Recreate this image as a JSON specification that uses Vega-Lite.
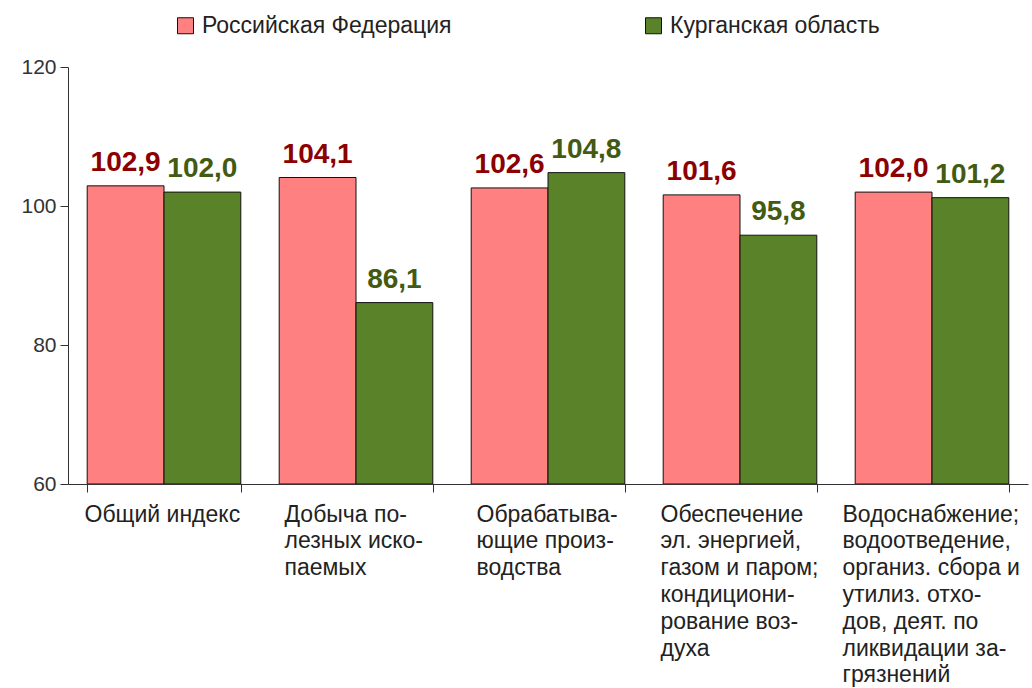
{
  "$schema": "https://vega.github.io/schema/vega-lite/v6.json",
  "width": 960,
  "height": 417,
  "autosize": {"type": "none"},
  "padding": {"left": 68, "top": 67, "right": 4, "bottom": 204},
  "background": "white",
  "config": {
    "view": {"stroke": null},
    "font": "Liberation Sans",
    "locale": {"number": {"decimal": ",", "thousands": " ", "grouping": [3], "currency": ["", ""]}}
  },
  "data": {
    "values": [
      {"cat": "Общий индекс", "series": "Российская Федерация", "v": 102.9},
      {"cat": "Общий индекс", "series": "Курганская область", "v": 102.0},
      {"cat": "Добыча по-\nлезных иско-\nпаемых", "series": "Российская Федерация", "v": 104.1},
      {"cat": "Добыча по-\nлезных иско-\nпаемых", "series": "Курганская область", "v": 86.1},
      {"cat": "Обрабатыва-\nющие произ-\nводства", "series": "Российская Федерация", "v": 102.6},
      {"cat": "Обрабатыва-\nющие произ-\nводства", "series": "Курганская область", "v": 104.8},
      {"cat": "Обеспечение\nэл. энергией,\nгазом и паром;\nкондициони-\nрование воз-\nдуха", "series": "Российская Федерация", "v": 101.6},
      {"cat": "Обеспечение\nэл. энергией,\nгазом и паром;\nкондициони-\nрование воз-\nдуха", "series": "Курганская область", "v": 95.8},
      {"cat": "Водоснабжение;\nводоотведение,\nорганиз. сбора и\nутилиз. отхо-\nдов, деят. по\nликвидации за-\nгрязнений", "series": "Российская Федерация", "v": 102.0},
      {"cat": "Водоснабжение;\nводоотведение,\nорганиз. сбора и\nутилиз. отхо-\nдов, деят. по\nликвидации за-\nгрязнений", "series": "Курганская область", "v": 101.2}
    ]
  },
  "encoding": {
    "x": {
      "field": "cat", "type": "nominal", "sort": null,
      "scale": {"paddingInner": 0.2, "paddingOuter": 0.1},
      "axis": {
        "title": null,
        "tickBand": "extent",
        "labelAngle": 0,
        "labelAlign": "left",
        "labelBaseline": "top",
        "labelOffset": {
          "condition": [
            {"test": "datum.index > 0.9", "value": -90},
            {"test": "datum.index > 0.1 && datum.index < 0.6", "value": -72}
          ],
          "value": -80
        },
        "labelPadding": 11,
        "labelFontSize": 23,
        "labelLineHeight": 26.8,
        "labelColor": "#222222",
        "labelLimit": 300,
        "labelOverlap": false,
        "labelBound": false,
        "labelExpr": "split(datum.label, '\\n')",
        "tickSize": 8,
        "tickColor": "#333333",
        "domainColor": "#333333",
        "grid": false
      }
    },
    "xOffset": {
      "field": "series", "type": "nominal",
      "scale": {"domain": ["Российская Федерация", "Курганская область"], "paddingInner": 0}
    },
    "y": {
      "field": "v", "type": "quantitative",
      "scale": {"domain": [60, 120], "nice": false, "zero": false},
      "axis": {
        "title": null,
        "values": [60, 80, 100, 120],
        "grid": false,
        "tickSize": 8,
        "tickColor": "#333333",
        "domainColor": "#333333",
        "labelFontSize": 21,
        "labelColor": "#333333",
        "labelPadding": 4
      }
    }
  },
  "layer": [
    {
      "mark": {"type": "bar", "stroke": "#111111", "strokeWidth": 1, "clip": true},
      "encoding": {
        "y2": {"datum": 60},
        "color": {
          "field": "series", "type": "nominal",
          "scale": {"domain": ["Российская Федерация", "Курганская область"], "range": ["#FF8080", "#5A8228"]},
          "legend": {
            "title": null,
            "orient": "none",
            "direction": "horizontal",
            "legendX": 106,
            "legendY": -53,
            "symbolType": "square",
            "symbolSize": 256,
            "symbolStrokeColor": "#111111",
            "symbolStrokeWidth": 1,
            "symbolOpacity": 1,
            "labelFontSize": 23,
            "labelColor": "#222222",
            "labelOffset": 5,
            "labelLimit": 400,
            "columnPadding": 190
          }
        }
      }
    },
    {
      "mark": {"type": "text", "fontSize": 28, "fontWeight": "bold", "baseline": "alphabetic", "dy": -15},
      "encoding": {
        "text": {"field": "v", "type": "quantitative", "format": ".1f"},
        "color": {
          "condition": {"test": "datum.series === 'Российская Федерация'", "value": "#8B0000"},
          "value": "#425A12"
        }
      }
    }
  ]
}
